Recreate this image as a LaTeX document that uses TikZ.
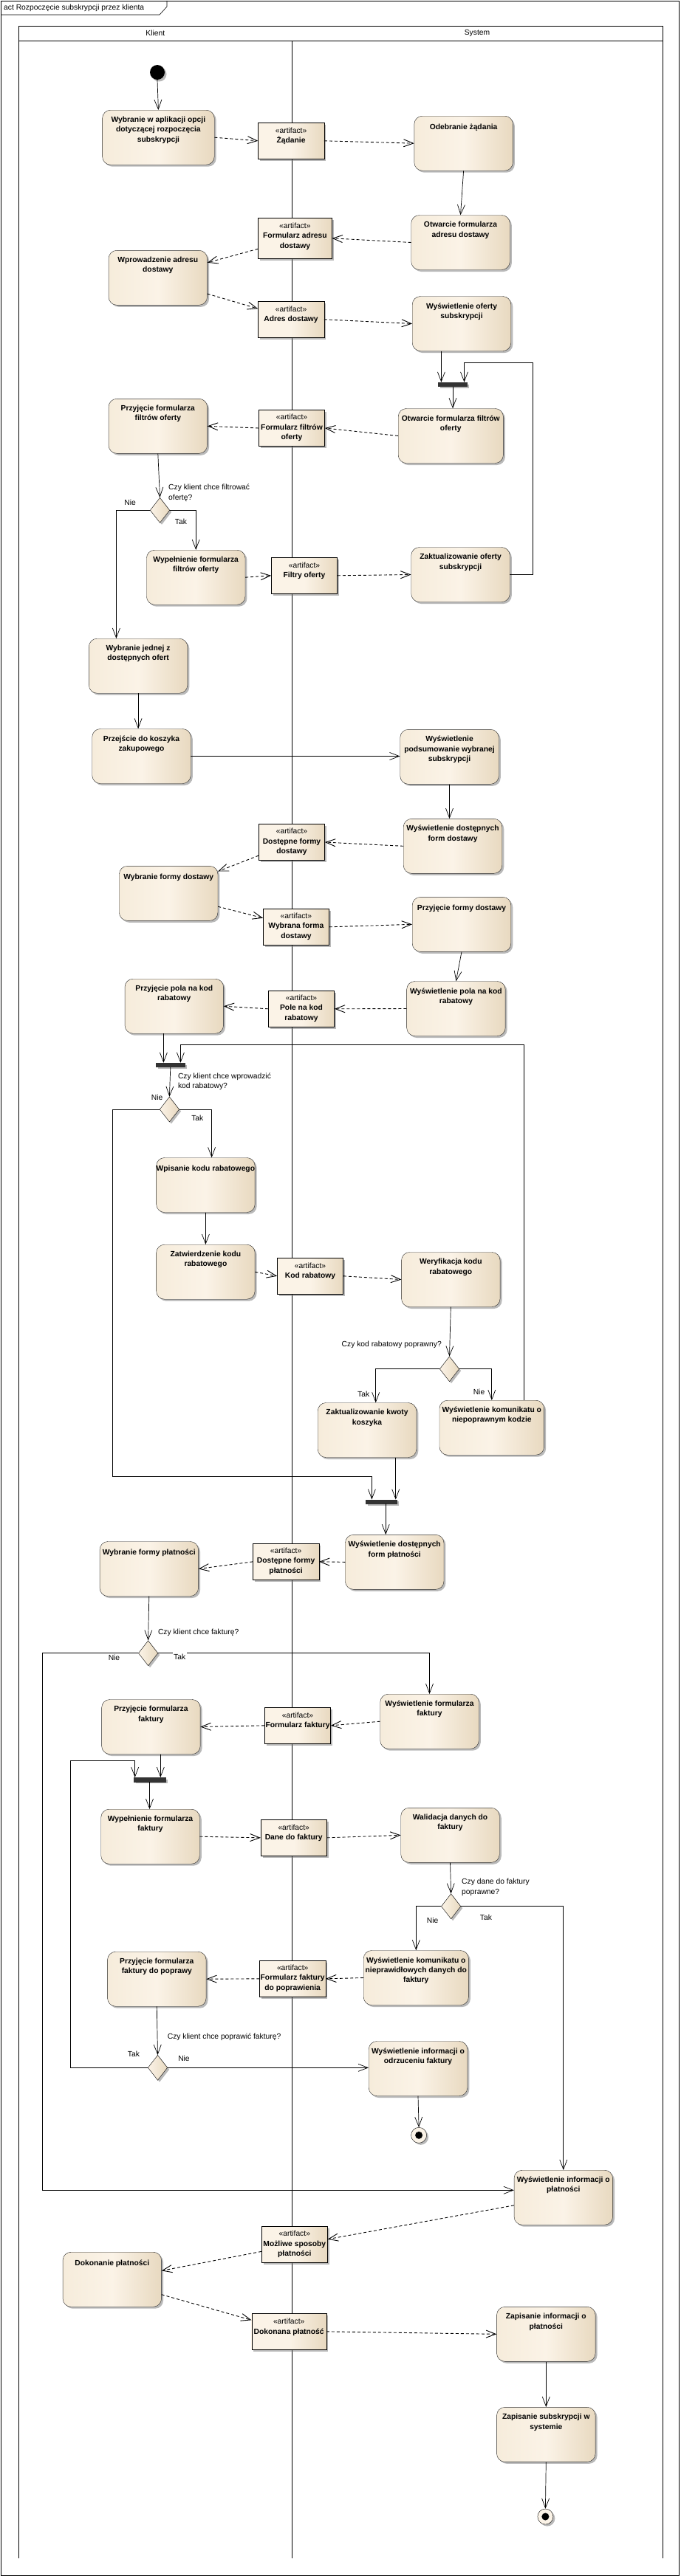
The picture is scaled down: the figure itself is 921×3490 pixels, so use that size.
\documentclass[tikz,border=0pt]{standalone}
\usepackage{fontspec}
\setmainfont{Liberation Sans}
\usetikzlibrary{positioning,shapes.geometric,shadows,arrows.meta}

\definecolor{kremL}{RGB}{246,236,219}
\definecolor{kremM}{RGB}{251,243,231}
\definecolor{kremP}{RGB}{232,217,192}
\newcommand{\pismo}{\fontsize{10.3}{13.2}\selectfont}

\tikzset{
  cien/.style={drop shadow={shadow xshift=2.5pt,shadow yshift=-2.5pt,fill=black!55,opacity=.5}},
  akcja/.style={draw=black!85, rounded corners=11pt, minimum width=133.5pt, minimum height=74pt, inner sep=0pt,
    left color=kremL, right color=kremP, middle color=kremM, cien},
  artefakt/.style={draw, minimum width=89.3pt, minimum height=49pt, inner sep=0pt,
    left color=kremM, right color=kremP, middle color=kremM, cien},
  decyzja/.style={diamond, draw, minimum width=26.4pt, minimum height=34pt, inner sep=0pt,
    left color=kremM, right color=kremP, cien},
  belka/.style={draw=black!80, fill=black!80, minimum width=40pt, minimum height=5.5pt, inner sep=0pt, cien},
  start/.style={circle, fill=black, minimum size=20pt, inner sep=0pt, cien},
  koniec/.style={circle, draw, fill=kremM, minimum size=21pt, inner sep=0pt, cien},
  kropka/.style={circle, fill=black, minimum size=10pt, inner sep=0pt},
  opis/.style={font=\pismo\bfseries, align=center, inner sep=0pt, execute at begin node=\strut},
  opisart/.style={font=\pismo, align=center, inner sep=0pt, execute at begin node=\strut},
  pytanie/.style={font=\pismo, align=left, inner sep=0pt, anchor=north west, execute at begin node=\strut},
  straz/.style={font=\pismo, inner sep=1.5pt},
  naglowek/.style={font=\pismo, inner sep=0pt},
  tor/.style={line width=0.6pt},
  przeplyw/.style={draw, line width=0.7pt, -{Straight Barb[length=13pt,width=10pt]}},
  obiekt/.style={draw, line width=0.9pt, dash pattern=on 4pt off 3pt, -{Straight Barb[length=13pt,width=10pt]}}
}

\begin{document}
\begin{tikzpicture}[x=1pt,y=-1pt]
  \useasboundingbox (0,0) rectangle (921,3490);

  \draw[line width=0.8pt] (1,1) rectangle (919,3489);
  \draw[line width=0.6pt] (1,20) -- (216,20) -- (226,9) -- (226,1);
  \node[naglowek, anchor=west] (tytul) at (5,11) {act Rozpoczęcie subskrypcji przez klienta};

  % tory
  \draw[tor] (25.3,35) rectangle (897,55);
  \foreach \x in {25.3,395.3,897}
  {
  \draw[tor] (\x,55) -- (\x,3466);
  }
  \node[naglowek] (klient) at (210.3,45) {Klient};
  \node[naglowek] (system) at (646,45) {System};

  % akcje
  \node[start] (start) at (213,98) {};
  \node[akcja, minimum width=151.6pt] (wybor) at (214.4,186.2) {};
  \node[opis, below=9pt of wybor.north] (woborT) {Wybranie w aplikacji opcji\\dotyczącej rozpoczęcia\\subskrypcji};
  \node[akcja] (odebranie) at (627.6,194.2) {};
  \node[opis, below=9pt of odebranie.north] (odebranieT) {Odebranie żądania};
  \node[akcja] (otwAdres) at (623.5,328.5) {};
  \node[opis, below=9pt of otwAdres.north] (otwAdresT) {Otwarcie formularza\\adresu dostawy};
  \node[akcja] (wprAdres) at (213.8,376.3) {};
  \node[opis, below=9pt of wprAdres.north] (wprAdresT) {Wprowadzenie adresu\\dostawy};
  \node[akcja] (wysOferty) at (625,438.5) {};
  \node[opis, below=9pt of wysOferty.north] (wysOfertyT) {Wyświetlenie oferty\\subskrypcji};
  \node[akcja, minimum width=142.2pt] (otwFiltry) at (610.3,590.5) {};
  \node[opis, below=9pt of otwFiltry.north] (otwFiltryT) {Otwarcie formularza filtrów\\oferty};
  \node[akcja] (przFiltry) at (213.8,577.3) {};
  \node[opis, below=9pt of przFiltry.north] (przFiltryT) {Przyjęcie formularza\\filtrów oferty};
  \node[akcja] (wypFiltry) at (265.2,782.2) {};
  \node[opis, below=9pt of wypFiltry.north] (wypFiltryT) {Wypełnienie formularza\\filtrów oferty};
  \node[akcja] (aktOferty) at (623.5,778.5) {};
  \node[opis, below=9pt of aktOferty.north] (aktOfertyT) {Zaktualizowanie oferty\\subskrypcji};
  \node[akcja] (wybOferty) at (187.1,902.2) {};
  \node[opis, below=9pt of wybOferty.north] (wybOfertyT) {Wybranie jednej z\\dostępnych ofert};
  \node[akcja] (koszyk) at (191.5,1024.5) {};
  \node[opis, below=9pt of koszyk.north] (koszykT) {Przejście do koszyka\\zakupowego};
  \node[akcja] (podsum) at (608.5,1025.3) {};
  \node[opis, below=9pt of podsum.north] (podsumT) {Wyświetlenie\\podsumowanie wybranej\\subskrypcji};
  \node[akcja] (wysDostawy) at (613,1146.3) {};
  \node[opis, below=9pt of wysDostawy.north] (wysDostawyT) {Wyświetlenie dostępnych\\form dostawy};
  \node[akcja] (wybDostawy) at (228.2,1210.3) {};
  \node[opis, below=9pt of wybDostawy.north] (wybDostawyT) {Wybranie formy dostawy};
  \node[akcja] (przDostawy) at (625,1252.3) {};
  \node[opis, below=9pt of przDostawy.north] (przDostawyT) {Przyjęcie formy dostawy};
  \node[akcja] (wysPola) at (617.4,1366.5) {};
  \node[opis, below=9pt of wysPola.north] (wysPolaT) {Wyświetlenie pola na kod\\rabatowy};
  \node[akcja] (przPola) at (235.8,1363.2) {};
  \node[opis, below=9pt of przPola.north] (przPolaT) {Przyjęcie pola na kod\\rabatowy};
  \node[akcja] (wpisKod) at (278.4,1605.5) {};
  \node[opis, below=9pt of wpisKod.north] (wpisKodT) {Wpisanie kodu rabatowego};
  \node[akcja] (zatwKod) at (278.4,1723.2) {};
  \node[opis, below=9pt of zatwKod.north] (zatwKodT) {Zatwierdzenie kodu\\rabatowego};
  \node[akcja] (werKod) at (610.3,1733.5) {};
  \node[opis, below=9pt of werKod.north] (werKodT) {Weryfikacja kodu\\rabatowego};
  \node[akcja] (aktKwoty) at (497,1937.5) {};
  \node[opis, below=9pt of aktKwoty.north] (aktKwotyT) {Zaktualizowanie kwoty\\koszyka};
  \node[akcja, minimum width=141.6pt] (komKod) at (665.8,1934.2) {};
  \node[opis, below=9pt of komKod.north] (komKodT) {Wyświetlenie komunikatu o\\niepoprawnym kodzie};
  \node[akcja] (wysPlatn) at (534.2,2116.3) {};
  \node[opis, below=9pt of wysPlatn.north] (wysPlatnT) {Wyświetlenie dostępnych\\form płatności};
  \node[akcja] (wybPlatn) at (201.8,2125.5) {};
  \node[opis, below=9pt of wybPlatn.north] (wybPlatnT) {Wybranie formy płatności};
  \node[akcja] (wysFakt) at (581.5,2332.2) {};
  \node[opis, below=9pt of wysFakt.north] (wysFaktT) {Wyświetlenie formularza\\faktury};
  \node[akcja] (przFakt) at (204.4,2339.5) {};
  \node[opis, below=9pt of przFakt.north] (przFaktT) {Przyjęcie formularza\\faktury};
  \node[akcja] (wypFakt) at (203.5,2488.2) {};
  \node[opis, below=9pt of wypFakt.north] (wypFaktT) {Wypełnienie formularza\\faktury};
  \node[akcja] (walFakt) at (609.5,2486.3) {};
  \node[opis, below=9pt of walFakt.north] (walFaktT) {Walidacja danych do\\faktury};
  \node[akcja, minimum width=142.2pt] (komFakt) at (563.3,2679.5) {};
  \node[opis, below=9pt of komFakt.north] (komFaktT) {Wyświetlenie komunikatu o\\nieprawidłowych danych do\\faktury};
  \node[akcja] (popFakt) at (212.3,2681.2) {};
  \node[opis, below=9pt of popFakt.north] (popFaktT) {Przyjęcie formularza\\faktury do poprawy};
  \node[akcja] (odrFakt) at (566,2802.5) {};
  \node[opis, below=9pt of odrFakt.north] (odrFaktT) {Wyświetlenie informacji o\\odrzuceniu faktury};
  \node[akcja] (infPlatn) at (762.8,2977.2) {};
  \node[opis, below=9pt of infPlatn.north] (infPlatnT) {Wyświetlenie informacji o\\płatności};
  \node[akcja] (dokPlatn) at (151.8,3088.2) {};
  \node[opis, below=9pt of dokPlatn.north] (dokPlatnT) {Dokonanie płatności};
  \node[akcja] (zapPlatn) at (739.3,3162.3) {};
  \node[opis, below=9pt of zapPlatn.north] (zapPlatnT) {Zapisanie informacji o\\płatności};
  \node[akcja] (zapSubs) at (739.3,3298.3) {};
  \node[opis, below=9pt of zapSubs.north] (zapSubsT) {Zapisanie subskrypcji w\\systemie};
  \node[koniec] (koniec1) at (567.1,2892.8) {};
  \node[kropka] (kropka1) at (koniec1.center) {};
  \node[koniec] (koniec2) at (738.4,3409.5) {};
  \node[kropka] (kropka2) at (koniec2.center) {};

  % artefakty
  \node[artefakt] (zadanie) at (394.1,190.8) {};
  \node[opisart, below=7pt of zadanie.north] (zadanieT) {«artifact»\\\textbf{Żądanie}};
  \node[artefakt, minimum width=99.9pt, minimum height=55pt] (formAdres) at (399.4,322.8) {};
  \node[opisart, below=7pt of formAdres.north] (formAdresT) {«artifact»\\\textbf{Formularz adresu}\\\textbf{dostawy}};
  \node[artefakt] (adres) at (394.1,432.8) {};
  \node[opisart, below=7pt of adres.north] (adresT) {«artifact»\\\textbf{Adres dostawy}};
  \node[artefakt] (formFiltry) at (395,580) {};
  \node[opisart, below=6pt of formFiltry.north] (formFiltryT) {«artifact»\\\textbf{Formularz filtrów}\\\textbf{oferty}};
  \node[artefakt] (filtry) at (412,779.8) {};
  \node[opisart, below=7pt of filtry.north] (filtryT) {«artifact»\\\textbf{Filtry oferty}};
  \node[artefakt] (dostFormy) at (395,1141) {};
  \node[opisart, below=6pt of dostFormy.north] (dostFormyT) {«artifact»\\\textbf{Dostępne formy}\\\textbf{dostawy}};
  \node[artefakt] (wybForma) at (400.9,1255.8) {};
  \node[opisart, below=6pt of wybForma.north] (wybFormaT) {«artifact»\\\textbf{Wybrana forma}\\\textbf{dostawy}};
  \node[artefakt] (poleKod) at (408,1366.8) {};
  \node[opisart, below=6pt of poleKod.north] (poleKodT) {«artifact»\\\textbf{Pole na kod}\\\textbf{rabatowy}};
  \node[artefakt] (kod) at (420,1728.8) {};
  \node[opisart, below=7pt of kod.north] (kodT) {«artifact»\\\textbf{Kod rabatowy}};
  \node[artefakt] (dostPlatn) at (387.1,2115.8) {};
  \node[opisart, below=6pt of dostPlatn.north] (dostPlatnT) {«artifact»\\\textbf{Dostępne formy}\\\textbf{płatności}};
  \node[artefakt] (formFakt) at (403,2337.8) {};
  \node[opisart, below=7pt of formFakt.north] (formFaktT) {«artifact»\\\textbf{Formularz faktury}};
  \node[artefakt] (daneFakt) at (397.7,2489.8) {};
  \node[opisart, below=7pt of daneFakt.north] (daneFaktT) {«artifact»\\\textbf{Dane do faktury}};
  \node[artefakt] (formPopr) at (396.2,2680.8) {};
  \node[opisart, below=6pt of formPopr.north] (formPoprT) {«artifact»\\\textbf{Formularz faktury}\\\textbf{do poprawienia}};
  \node[artefakt] (sposoby) at (398.8,3040.8) {};
  \node[opisart, below=6pt of sposoby.north] (sposobyT) {«artifact»\\\textbf{Możliwe sposoby}\\\textbf{płatności}};
  \node[artefakt, minimum width=101pt] (dokonana) at (391.2,3158.8) {};
  \node[opisart, below=7pt of dokonana.north] (dokonanaT) {«artifact»\\\textbf{Dokonana płatność}};

  % decyzje i belki
  \node[decyzja] (czyFiltr) at (216.5,691.3) {};
  \node[decyzja] (czyKod) at (229.4,1503) {};
  \node[decyzja] (czyPoprawny) at (608.5,1854.7) {};
  \node[decyzja] (czyFaktura) at (200.6,2239.7) {};
  \node[decyzja] (czyDane) at (610.6,2582.7) {};
  \node[decyzja] (czyPopraw) at (213.5,2801.3) {};
  \node[belka, minimum width=39.3pt] (belka1) at (613,520.8) {};
  \node[belka, minimum width=38.7pt] (belka2) at (230.8,1442.8) {};
  \node[belka, minimum width=42pt] (belka3) at (516,2034.5) {};
  \node[belka, minimum width=43pt] (belka4) at (202.5,2411) {};

  \node[pytanie] (pyt1) at (228,656.2) {Czy klient chce filtrować\\ofertę?};
  \node[pytanie] (pyt2) at (240.8,1453.5) {Czy klient chce wprowadzić\\kod rabatowy?};
  \node[pytanie, anchor=north east] (pyt3) at (598,1815.5) {Czy kod rabatowy poprawny?};
  \node[pytanie] (pyt4) at (213.8,2205.2) {Czy klient chce fakturę?};
  \node[pytanie] (pyt5) at (625,2545.2) {Czy dane do faktury\\poprawne?};
  \node[pytanie] (pyt6) at (226.7,2753.2) {Czy klient chce poprawić fakturę?};

  % przeplyw sterowania
  \coordinate (petla1) at (721.3,491.3);
  \coordinate (petla2) at (244.4,1415.3);
  \coordinate (petla3) at (152.7,2000);
  \coordinate (petla4) at (57.6,2967.3);
  \coordinate (petla5) at (95.7,2385.3);
  \draw[przeplyw] (start.south) -- (wybor.north);
  \draw[przeplyw] (odebranie.south) -- (otwAdres.north);
  \draw[przeplyw] ([xshift=-27.6pt]wysOferty.south) -- ([xshift=-27.6pt]wysOferty.south |- belka1.north);
  \draw[przeplyw] (aktOferty.east) -| (petla1) -| ([xshift=15.5pt]belka1.north);
  \draw[przeplyw] (belka1.south) -- (belka1.south |- otwFiltry.north);
  \draw[przeplyw] (przFiltry.south) -- (czyFiltr.north);
  \draw[przeplyw] (czyFiltr.west) -| ([xshift=-29.7pt]wybOferty.north);
  \draw[przeplyw] (czyFiltr.east) -| (wypFiltry.north);
  \draw[przeplyw] (wybOferty.south) -- (wybOferty.south |- koszyk.north);
  \draw[przeplyw] (koszyk.east) -- (koszyk.east -| podsum.west);
  \draw[przeplyw] (podsum.south) -- (podsum.south |- wysDostawy.north);
  \draw[przeplyw] (przDostawy.south) -- (wysPola.north);
  \draw[przeplyw] ([xshift=-14.4pt]przPola.south) -- ([xshift=-14.4pt]przPola.south |- belka2.north);
  \draw[przeplyw] ([xshift=43.8pt]komKod.north) |- (petla2) -- (petla2 |- belka2.north);
  \draw[przeplyw] (belka2.south) -- (czyKod.north);
  \draw[przeplyw] (czyKod.west) -| (petla3) -| ([xshift=-12.6pt]belka3.north);
  \draw[przeplyw] (czyKod.east) -| ([xshift=8.2pt]wpisKod.north);
  \draw[przeplyw] (wpisKod.south) -- (zatwKod.north);
  \draw[przeplyw] (werKod.south) -- (czyPoprawny.north);
  \draw[przeplyw] (czyPoprawny.west) -| ([xshift=11.7pt]aktKwoty.north);
  \draw[przeplyw] (czyPoprawny.east) -| (komKod.north);
  \draw[przeplyw] ([xshift=38.7pt]aktKwoty.south) -- ([xshift=38.7pt]aktKwoty.south |- belka3.north);
  \draw[przeplyw] ([xshift=6.2pt]belka3.south) -- ([xshift=6.2pt]belka3.south |- wysPlatn.north);
  \draw[przeplyw] (wybPlatn.south) -- (czyFaktura.north);
  \draw[przeplyw] (czyFaktura.west) -| (petla4) -- (petla4 -| infPlatn.west);
  \draw[przeplyw] (czyFaktura.east) -| (wysFakt.north);
  \draw[przeplyw] ([xshift=12.9pt]przFakt.south) -- ([xshift=12.9pt]przFakt.south |- belka4.north);
  \draw[przeplyw] (belka4.south) -- (belka4.south |- wypFakt.north);
  \draw[przeplyw] (walFakt.south) -- (czyDane.north);
  \draw[przeplyw] (czyDane.west) -| (komFakt.north);
  \draw[przeplyw] (czyDane.east) -| (infPlatn.north);
  \draw[przeplyw] (popFakt.south) -- (czyPopraw.north);
  \draw[przeplyw] (czyPopraw.west) -| (petla5) -| ([xshift=-19.8pt]belka4.north);
  \draw[przeplyw] (czyPopraw.east) -- (czyPopraw.east -| odrFakt.west);
  \draw[przeplyw] (odrFakt.south) -- (koniec1.north);
  \draw[przeplyw] (zapPlatn.south) -- (zapSubs.north);
  \draw[przeplyw] (zapSubs.south) -- (koniec2.north);

  % przeplyw obiektow
  \draw[obiekt] (wybor.east) -- (zadanie.west);
  \draw[obiekt] (zadanie.east) -- (odebranie.west);
  \draw[obiekt] (otwAdres.west) -- (formAdres.east);
  \draw[obiekt] (formAdres.196) -- (wprAdres.17);
  \draw[obiekt] (wprAdres.-18) -- (adres.162);
  \draw[obiekt] (adres.east) -- (wysOferty.west);
  \draw[obiekt] (otwFiltry.west) -- (formFiltry.east);
  \draw[obiekt] (formFiltry.west) -- (przFiltry.east);
  \draw[obiekt] (wypFiltry.east) -- (filtry.west);
  \draw[obiekt] (filtry.east) -- (aktOferty.west);
  \draw[obiekt] (wysDostawy.west) -- (dostFormy.east);
  \draw[obiekt] (dostFormy.202) -- (wybDostawy.24);
  \draw[obiekt] (wybDostawy.-15) -- (wybForma.165);
  \draw[obiekt] (wybForma.east) -- (przDostawy.west);
  \draw[obiekt] (wysPola.west) -- (poleKod.east);
  \draw[obiekt] (poleKod.west) -- (przPola.east);
  \draw[obiekt] (zatwKod.east) -- (kod.west);
  \draw[obiekt] (kod.east) -- (werKod.west);
  \draw[obiekt] (wysPlatn.west) -- (dostPlatn.east);
  \draw[obiekt] (dostPlatn.west) -- (wybPlatn.east);
  \draw[obiekt] (wysFakt.west) -- (formFakt.east);
  \draw[obiekt] (formFakt.west) -- (przFakt.east);
  \draw[obiekt] (wypFakt.east) -- (daneFakt.west);
  \draw[obiekt] (daneFakt.east) -- (walFakt.west);
  \draw[obiekt] (komFakt.west) -- (formPopr.east);
  \draw[obiekt] (formPopr.west) -- (popFakt.east);
  \draw[obiekt] (infPlatn.189) -- (sposoby.9);
  \draw[obiekt] (sposoby.192) -- (dokPlatn.10);
  \draw[obiekt] (dokPlatn.-17) -- (dokonana.163);
  \draw[obiekt] (dokonana.east) -- (zapPlatn.west);

  % warunki
  \node[straz] (nie1) at (176.2,680.7) {Nie};
  \node[straz] (tak1) at (245,706.7) {Tak};
  \node[straz] (nie2) at (212.6,1486.7) {Nie};
  \node[straz] (tak2) at (267.3,1514.3) {Tak};
  \node[straz] (tak3) at (492.2,1888.7) {Tak};
  \node[straz] (nie3) at (648.5,1886) {Nie};
  \node[straz, fill=white] (nie4) at (154.5,2245.7) {Nie};
  \node[straz, fill=white] (tak4) at (243.2,2244.7) {Tak};
  \node[straz] (nie5) at (585.6,2601.7) {Nie};
  \node[straz] (tak5) at (657.9,2597.7) {Tak};
  \node[straz] (tak6) at (181,2782.7) {Tak};
  \node[straz] (nie6) at (249,2789) {Nie};
\end{tikzpicture}
\end{document}
